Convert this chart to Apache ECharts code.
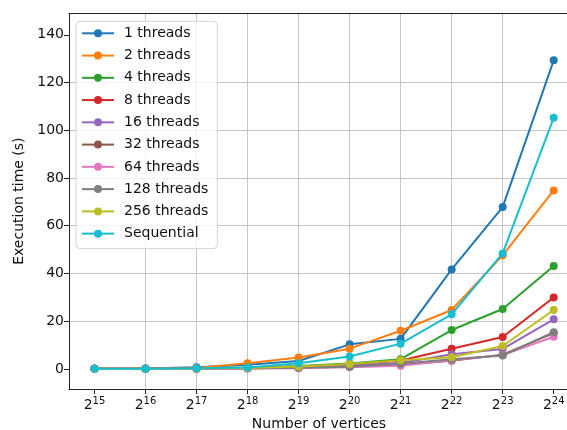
<!DOCTYPE html>
<html>
<head>
<meta charset="utf-8">
<script src="https://cdn.jsdelivr.net/npm/echarts@6/dist/echarts.min.js"></script>
<style>
  html, body { margin: 0; padding: 0; background: #fff; overflow: hidden; }
  #chart { width: 567px; height: 430px; }
</style>
</head>
<body>
<div id="chart"></div>
<script>
// Graph sizes as powers of two (exponent of 2)
const exponents = [15, 16, 17, 18, 19, 20, 21, 22, 23, 24];
const yTicks = [0, 20, 40, 60, 80, 100, 120, 140];

const seriesNames = ['1 threads', '2 threads', '4 threads', '8 threads', '16 threads',
  '32 threads', '64 threads', '128 threads', '256 threads', 'Sequential'];

// Execution time in seconds
const t1   = [0.05, 0.2, 0.7, 1.8, 3.3, 10.3, 12.6, 41.7, 67.8, 129.3];
const t2   = [0.05, 0.2, 0.4, 2.4, 4.8, 8.5, 16.0, 24.7, 47.6, 74.8];
const t4   = [0.05, 0.1, 0.3, 0.6, 1.2, 2.3, 4.1, 16.3, 25.1, 43.1];
const t8   = [0.05, 0.1, 0.2, 0.4, 0.8, 1.8, 3.5, 8.5, 13.4, 29.9];
const t16  = [0.05, 0.1, 0.2, 0.3, 0.6, 1.4, 2.5, 6.2, 8.4, 20.8];
const t32  = [0.05, 0.1, 0.2, 0.3, 0.5, 1.0, 1.8, 3.4, 6.0, 15.0];
const t64  = [0.05, 0.1, 0.1, 0.2, 0.3, 0.7, 1.3, 3.6, 5.8, 13.5];
const t128 = [0.05, 0.1, 0.2, 0.3, 0.5, 0.9, 2.2, 4.1, 5.6, 15.4];
const t256 = [0.05, 0.1, 0.2, 0.4, 1.0, 2.1, 3.6, 4.9, 9.6, 24.7];
const tSeq = [0.05, 0.1, 0.3, 0.6, 2.4, 5.2, 10.6, 22.9, 48.4, 105.2];

const allSeries = [t1, t2, t4, t8, t16, t32, t64, t128, t256, tSeq];
const colors = ['#1f77b4', '#ff7f0e', '#2ca02c', '#d62728', '#9467bd',
  '#8c564b', '#e377c2', '#7f7f7f', '#bcbd22', '#17becf'];

const FONT = 'DejaVu Sans';
const TEXT = '#111';
const AXIS = '#222';
const GRID = '#c4c4c4';

// The plot area runs past the right edge of the canvas
const xMin = 14.5, xMax = 24.3;
const yMin = -8.4, yMax = 149;

const chart = echarts.init(document.getElementById('chart'), null, { renderer: 'canvas' });

chart.setOption({
  animation: false,
  backgroundColor: '#fff',
  textStyle: { fontFamily: FONT },
  grid: { left: 69, right: -2, top: 13.3, bottom: 41, containLabel: false, outerBoundsMode: 'none' },
  legend: {
    orient: 'vertical',
    left: 76,
    top: 21.3,
    padding: [5, 9, 8, 5],
    itemWidth: 32,
    itemHeight: 10,
    itemGap: 8.26,
    backgroundColor: 'rgba(255,255,255,0.8)',
    borderColor: '#d4d4d4',
    borderWidth: 1,
    borderRadius: 4,
    textStyle: { fontFamily: FONT, fontSize: 14, lineHeight: 14, color: TEXT, padding: [0, 0, 0, 5] },
    data: seriesNames
  },
  xAxis: [{
    type: 'value',
    min: xMin,
    max: xMax,
    name: 'Number of vertices',
    nameLocation: 'middle',
    nameGap: 26,
    nameTextStyle: { fontFamily: FONT, fontSize: 14, color: TEXT },
    axisLine: { show: true, onZero: false, lineStyle: { color: AXIS, width: 1 } },
    axisTick: { show: true, inside: false, length: 5, customValues: exponents, lineStyle: { color: AXIS } },
    axisLabel: {
      customValues: exponents,
      margin: 7,
      formatter: v => '{b|2}{s|' + v + '}',
      rich: {
        b: { fontFamily: FONT, fontSize: 14, lineHeight: 18, color: TEXT },
        s: { fontFamily: FONT, fontSize: 10, lineHeight: 9, verticalAlign: 'top', color: TEXT }
      }
    },
    splitLine: { show: true, showMinLine: false, showMaxLine: false, lineStyle: { color: GRID, width: 1 } }
  }, {
    type: 'value',
    position: 'top',
    min: xMin,
    max: xMax,
    axisLine: { show: true, onZero: false, lineStyle: { color: AXIS, width: 1 } },
    axisTick: { show: false },
    axisLabel: { show: false },
    splitLine: { show: false }
  }],
  yAxis: {
    type: 'value',
    min: yMin,
    max: yMax,
    name: 'Execution time (s)',
    nameLocation: 'middle',
    nameRotate: 90,
    nameGap: 42,
    nameTextStyle: { fontFamily: FONT, fontSize: 14, color: TEXT },
    axisLine: { show: true, onZero: false, lineStyle: { color: AXIS, width: 1 } },
    axisTick: { show: true, inside: false, length: 5, customValues: yTicks, lineStyle: { color: AXIS } },
    axisLabel: { customValues: yTicks, margin: 5, fontFamily: FONT, fontSize: 14, color: TEXT },
    splitLine: { show: true, showMinLine: false, showMaxLine: false, lineStyle: { color: GRID, width: 1 } }
  },
  series: allSeries.map((vals, i) => ({
    name: seriesNames[i],
    type: 'line',
    xAxisIndex: 0,
    data: vals.map((v, j) => [exponents[j], v]),
    symbol: 'circle',
    symbolSize: 8,
    showAllSymbol: true,
    color: colors[i],
    lineStyle: { width: 2, color: colors[i] },
    itemStyle: { color: colors[i] },
    emphasis: { disabled: true },
    z: 2 + i
  }))
});
</script>
</body>
</html>
